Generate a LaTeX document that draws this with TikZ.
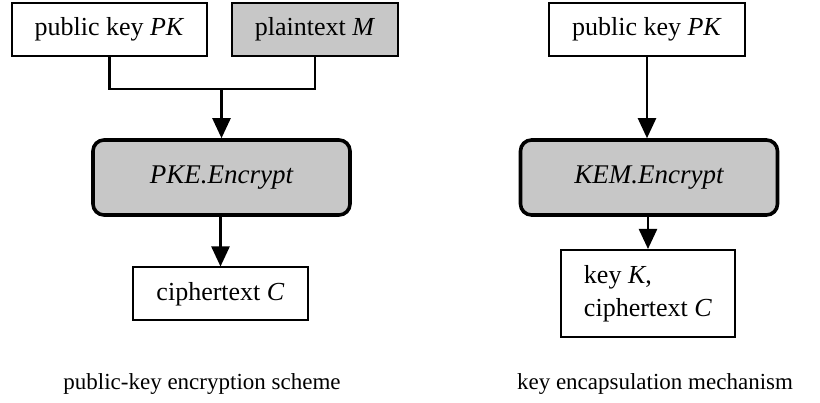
\documentclass[tikz,border=0pt]{standalone}
\usepackage{fontspec}
\setmainfont{Liberation Serif}
\usepackage{tikz}
\usetikzlibrary{positioning,%
  arrows.meta,%
  calc
}

\tikzset{
  databox/.style={draw, line width=2pt, inner sep=0pt, minimum height=53pt, font=\fontsize{26}{33}\selectfont},
  grayfill/.style={fill=black!22},
  algbox/.style={draw, line width=3.6pt, rounded corners=11pt, grayfill, minimum width=257pt, minimum height=75pt, font=\fontsize{27}{33}\selectfont\itshape},
  flow/.style={line width=2.4pt, -{Triangle[width=18pt,length=20pt]}},
  caption/.style={font=\fontsize{23}{28}\selectfont}
}

\begin{document}
\begin{tikzpicture}[x=1pt,y=-1pt]
            \useasboundingbox (0,0) rectangle (820,403);

            % public-key encryption
            \node[databox, minimum width=195pt] (pkA) at (109.5,29.5) {public key \textit{PK}};
            \node[databox, grayfill, minimum width=166pt] (msg) at (315,29.5) {plaintext \textit{M}};
            \node[algbox] (pke) at (221.5,177.5) {PKE.Encrypt};
            \node[databox, minimum width=175pt] (ctA) at (220.5,294) {ciphertext \textit{C}};
            \coordinate (merge) at (221.5,89);

            \draw[line width=2.4pt] (pkA.south) |- (merge) -| (msg.south);
            \draw[flow] (merge) -- (pke.north);
            \draw[flow] (pke.south -| ctA.north) -- (ctA.north);

            % key encapsulation
            \node[databox, minimum width=196pt] (pkB) at (647,29.5) {public key \textit{PK}};
            \node[algbox] (kem) at (649,177.5) {KEM.Encrypt};
            \node[databox, minimum width=174pt, minimum height=87pt, align=left] (keyct) at (648,293.5) {key \textit{K},\\ciphertext \textit{C}};

            \draw[flow] (pkB.south) -- (pkB.south |- kem.north);
            \draw[flow] (kem.south -| keyct.north) -- (keyct.north);

            \node[caption] (capA) at (202,384) {public-key encryption scheme};
            \node[caption] (capB) at (655,384) {key encapsulation mechanism};
        \end{tikzpicture}
\end{document}
